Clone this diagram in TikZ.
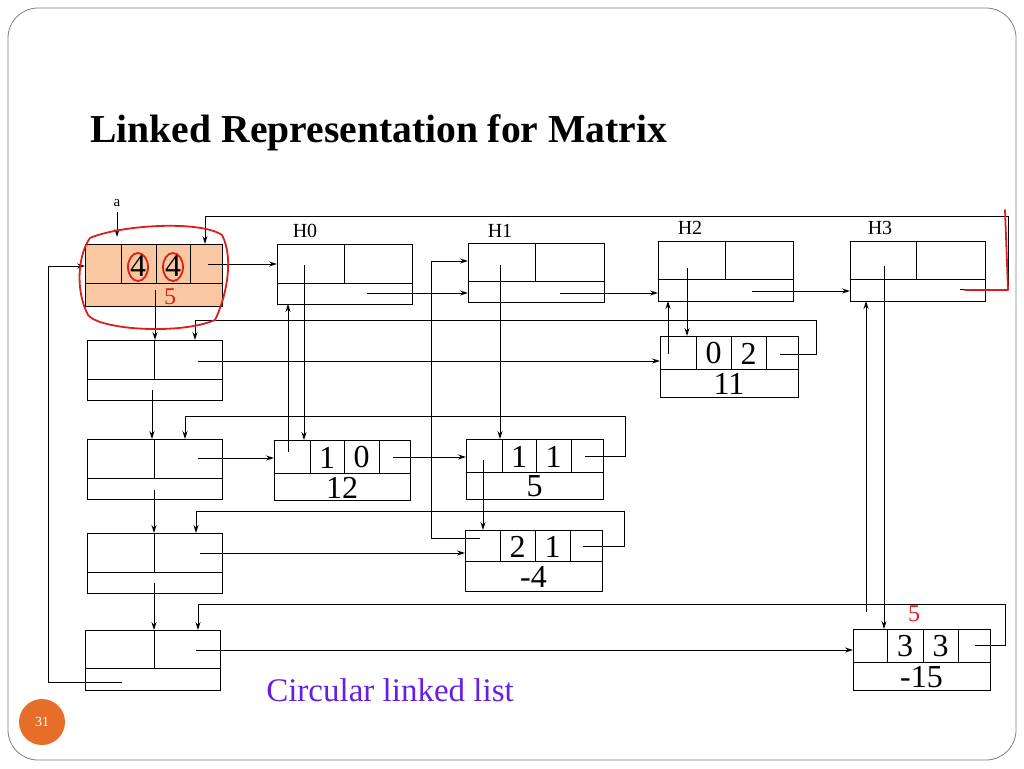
\documentclass[tikz,border=0pt]{standalone}
\usepackage{fontspec}
\setmainfont{Liberation Serif}
\usetikzlibrary{arrows.meta}
\definecolor{entryfill}{RGB}{250,200,160}
\definecolor{pgorange}{RGB}{230,110,40}
\definecolor{violet}{RGB}{100,30,230}
\definecolor{hand}{RGB}{220,30,30}
\begin{document}
\begin{tikzpicture}[x=1pt,y=-1pt,line width=1pt,
  ln/.style={line width=0.9pt},
  ar/.style={ln,-{Stealth[length=8pt,width=5pt]}},
  red/.style={draw=hand,line width=1.8pt,line cap=round,line join=round},
  big/.style={font=\fontsize{32}{32}\selectfont,inner sep=0pt},
  lab/.style={font=\fontsize{20}{20}\selectfont}]
\useasboundingbox (0,0) rectangle (1024,768);
\draw[line width=0.8pt,draw=gray] (8,8) [rounded corners=30pt] rectangle (1016,760);
\node[circle,fill=pgorange,minimum size=46pt,text=white,font=\fontsize{14}{14}\selectfont] (pg) at (42,722) {31};
\node[font=\bfseries\fontsize{39.6}{40}\selectfont,anchor=west,inner sep=0pt] (title) at (90,133) {Linked Representation for Matrix};
\node[font=\fontsize{33}{33}\selectfont,text=violet] (cll) at (390,690) {Circular linked list};
% entry
\fill[entryfill] (85,244) rectangle (222,306);
\draw (85,244) rectangle (222,306); \draw (85,283)--(222,283);
\draw (121,244)--(121,283) (156,244)--(156,283) (190,244)--(190,283);
\node[big] (e1) at (138,266) {4}; \node[big] (e2) at (173,266) {4};
% headers
\foreach \l/\t/\r/\b/\s/\m in {277/244/412/304/283/344,468/243/604/302/281/535,658/241/793/301/279/725,850/241/985/301/279/916}{
 \draw (\l,\t) rectangle (\r,\b); \draw (\l,\s)--(\r,\s); \draw (\m,\t)--(\m,\s);}
\node[lab] (H0) at (305,231) {H0}; \node[lab] (H1) at (500,231) {H1};
\node[lab] (H2) at (690,228) {H2}; \node[lab] (H3) at (880,228) {H3};
% row headers
\foreach \t/\s/\b/\l/\r in {340/379/400/87/222,439/478/499/87/222,533/572/593/87/222,630/668/690/85/220}{
 \draw (\l,\t) rectangle (\r,\b); \draw (\l,\s)--(\r,\s); \draw (154,\t)--(154,\s);}
% elements
\foreach \l/\t/\r/\b/\s/\ca/\cb/\cc/\va/\vb/\vc in {274/440/410/500/473/310/344/379/1/0/12,466/439/603/499/472/502/536/571/1/1/5,465/530/602/591/561/500/535/570/2/1/-4,660/336/798/397/369/696/731/766/0/2/11,853/629/990/690/662/887/923/958/3/3/-15}{
 \draw (\l,\t) rectangle (\r,\b); \draw (\l,\s)--(\r,\s);
 \draw (\ca,\t)--(\ca,\s) (\cb,\t)--(\cb,\s) (\cc,\t)--(\cc,\s);
 \node[big] at ({(\ca+\cb)/2},{(\t+\s)/2+1}) {\va};
 \node[big] at ({(\cb+\cc)/2},{(\t+\s)/2+1}) {\vb};
 \node[big] at ({(\l+\r)/2},{(\s+\b)/2+1}) {\vc};}
% connectors
\node[font=\fontsize{15}{15}\selectfont] (a) at (117,203) {a};
\draw[ar] (117,212)--(117,237);
\draw[ar] (208,264)--(277,264);
\draw[ar] (960,289)-|(1008,216)-|(205,244);
\draw[ar] (367,293)--(468,293);
\draw[ar] (560,293)--(658,293);
\draw[ar] (752,291)--(850,291);
\draw[ar] (155,290)--(155,340);
\draw[ar] (780,354)-|(816,320)-|(195,340);
\draw[ar] (198,361)--(660,361);
\draw[ar] (152,390)--(152,439);
\draw[ar] (585,456)-|(625,416)-|(185,439);
\draw[ar] (198,458)--(274,458);
\draw[ar] (393,457)--(466,457);
\draw[ar] (154,490)--(154,533);
\draw[ar] (583,546)-|(624,511)-|(196,533);
\draw[ar] (200,553)--(465,553);
\draw[ar] (154,583)--(154,630);
\draw[ar] (975,645)-|(1005,604)-|(198,630);
\draw[ar] (196,650)--(853,650);
\draw[ar] (122,682)-|(48,266)--(85,266);
\draw[ar] (304,265)--(304,440);
\draw[ar] (288,452)--(288,304);
\draw[ar] (500,265)--(500,439);
\draw[ar] (483,460)--(483,530);
\draw[ar] (480,538)-|(431,261)--(468,261);
\draw[ar] (687,268)--(687,336);
\draw[ar] (668,354)--(668,301);
\draw[ar] (884,266)--(884,629);
\draw[ar] (866,612)--(866,301);
% handwritten red annotations
\draw[red] (90,238) .. controls (120,225) and (200,220) .. (222,235) .. controls (235,260) and (225,300) .. (215,320) .. controls (180,335) and (100,330) .. (88,315) .. controls (75,290) and (78,255) .. (90,238);
\draw[red] (138,267) ellipse (10pt and 14pt); \draw[red] (173,267) ellipse (10pt and 14pt);
\node[text=hand,font=\fontsize{24}{24}\selectfont] (r5a) at (170,297) {5};
\node[text=hand,font=\fontsize{24}{24}\selectfont] (r5b) at (914,614) {5};
\draw[red] (1005,210)--(1008,290)--(965,290);
\end{tikzpicture}
\end{document}
